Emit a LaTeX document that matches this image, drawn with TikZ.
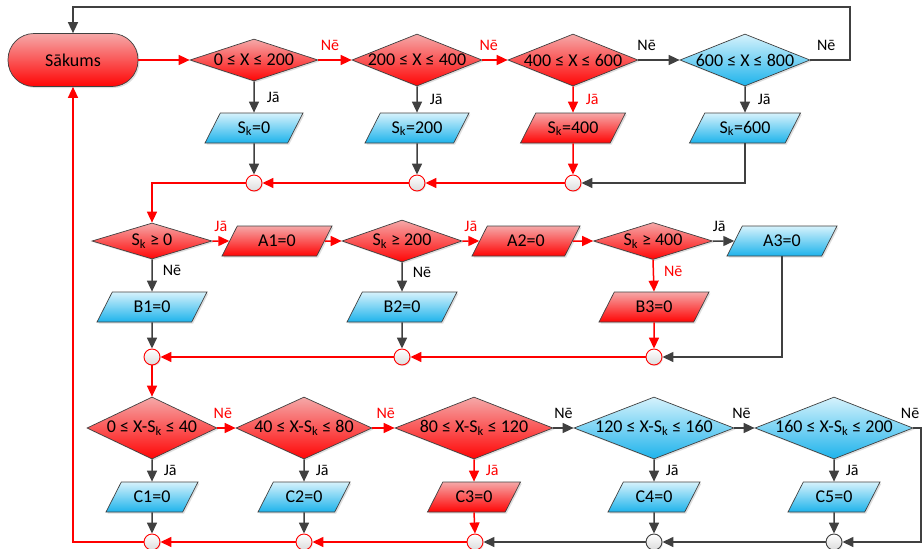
\documentclass[tikz,border=0pt]{standalone}
\usepackage{fontspec}
\setmainfont{Carlito}
\usepackage{xcolor}
\usetikzlibrary{shapes.geometric,arrows.meta,shadows}
\definecolor{redtop}{HTML}{F5A8A8}
\definecolor{redmid}{HTML}{FF4A4A}
\definecolor{redbot}{HTML}{FF0505}
\definecolor{bluetop}{HTML}{D6F2FC}
\definecolor{bluemid}{HTML}{7AD3F3}
\definecolor{bluebot}{HTML}{1DB3EB}
\definecolor{edgegray}{HTML}{404040}
\definecolor{flowred}{HTML}{FF0000}
\definecolor{flowgray}{HTML}{404040}
\definecolor{jointgray}{HTML}{DCDCDC}

\tikzset{
  shapebase/.style={draw=edgegray, line width=0.7pt, text=black,
    font=\fontsize{18}{20}\selectfont,
    drop shadow={shadow xshift=1.5pt, shadow yshift=-1.5pt, opacity=0.25}},
  redfill/.style={top color=redtop, middle color=redmid, bottom color=redbot},
  bluefill/.style={top color=bluetop, middle color=bluemid, bottom color=bluebot},
  startbox/.style={shapebase, rectangle, rounded corners=26pt,
    minimum width=130pt, minimum height=53pt, inner sep=0pt},
  decision/.style={shapebase, diamond, aspect=3, inner xsep=-4pt, inner ysep=-3pt},
  iobox/.style={shapebase, trapezium, trapezium left angle=63, trapezium right angle=117,
    trapezium stretches body=true, text height=13pt, text depth=3pt,
    inner xsep=0pt, inner ysep=7pt},
  junction/.style={circle, minimum size=16pt, inner sep=0pt, line width=0.9pt,
    top color=white, bottom color=jointgray,
    drop shadow={shadow xshift=1pt, shadow yshift=-1pt, opacity=0.2}},
  redjunction/.style={junction, draw=flowred},
  grayjunction/.style={junction, draw=edgegray},
  redflow/.style={draw=flowred, line width=1.5pt, -{Triangle[length=11pt,width=10pt]}},
  grayflow/.style={draw=flowgray, line width=1.5pt, -{Triangle[length=11pt,width=10pt]}},
  lbl/.style={font=\fontsize{16}{18}\selectfont, inner sep=1pt},
  redlbl/.style={lbl, text=flowred},
  graylbl/.style={lbl, text=black}
}
\newcommand{\Sk}{S\textsubscript{k}}

\begin{document}
\begin{tikzpicture}[x=1pt, y=-1pt]
\useasboundingbox (0,0) rectangle (922,549);

\node[startbox, redfill] (start) at (73,60) {Sākums};

\node[decision, redfill, minimum width=128pt, minimum height=42pt] (d1) at (254,60) {0 ≤ X ≤ 200};
\node[decision, redfill, minimum width=130pt, minimum height=52pt] (d2) at (417,60) {200 ≤ X ≤ 400};
\node[decision, redfill, minimum width=130pt, minimum height=52pt] (d3) at (573,60) {400 ≤ X ≤ 600};
\node[decision, bluefill, minimum width=130pt, minimum height=52pt] (d4) at (745,60) {600 ≤ X ≤ 800};

\node[iobox, bluefill, minimum width=98pt] (s0) at (254,128) {\Sk=0};
\node[iobox, bluefill, minimum width=104pt] (s200) at (417,128) {\Sk=200};
\node[iobox, redfill, minimum width=105pt] (s400) at (573,128) {\Sk=400};
\node[iobox, bluefill, minimum width=111pt] (s600) at (745,128) {\Sk=600};

\node[redjunction] (j1) at (254,183) {};
\node[redjunction] (j2) at (417,183) {};
\node[redjunction] (j3) at (573,183) {};

\node[decision, redfill, minimum width=120pt, minimum height=36pt] (m1) at (152,241) {\Sk{} ≥ 0};
\node[decision, redfill, minimum width=120pt, minimum height=42pt] (m2) at (402,241) {\Sk{} ≥ 200};
\node[decision, redfill, minimum width=119pt, minimum height=37pt] (m3) at (653,241) {\Sk{} ≥ 400};

\node[iobox, redfill, minimum width=110pt] (a1) at (277,241) {A1=0};
\node[iobox, redfill, minimum width=108pt] (a2) at (526,241) {A2=0};
\node[iobox, bluefill, minimum width=110pt] (a3) at (782,241) {A3=0};

\node[iobox, bluefill, minimum width=110pt] (b1) at (152,307) {B1=0};
\node[iobox, bluefill, minimum width=110pt] (b2) at (402,307) {B2=0};
\node[iobox, redfill, minimum width=110pt] (b3) at (654,307) {B3=0};

\node[redjunction] (k1) at (152,357) {};
\node[redjunction] (k2) at (402,357) {};
\node[redjunction] (k3) at (654,357) {};

\node[decision, redfill, minimum width=130pt, minimum height=62pt] (n1) at (152,428) {0 ≤ X-\Sk{} ≤ 40};
\node[decision, redfill, minimum width=136pt, minimum height=62pt] (n2) at (304,428) {40 ≤ X-\Sk{} ≤ 80};
\node[decision, redfill, minimum width=158pt, minimum height=62pt] (n3) at (474,428) {80 ≤ X-\Sk{} ≤ 120};
\node[decision, bluefill, minimum width=160pt, minimum height=62pt] (n4) at (654,428) {120 ≤ X-\Sk{} ≤ 160};
\node[decision, bluefill, minimum width=158pt, minimum height=62pt] (n5) at (834,428) {160 ≤ X-\Sk{} ≤ 200};

\node[iobox, bluefill, minimum width=92pt] (c1) at (152,497) {C1=0};
\node[iobox, bluefill, minimum width=92pt] (c2) at (304,497) {C2=0};
\node[iobox, redfill, minimum width=93pt] (c3) at (474,497) {C3=0};
\node[iobox, bluefill, minimum width=92pt] (c4) at (654,497) {C4=0};
\node[iobox, bluefill, minimum width=92pt] (c5) at (834,497) {C5=0};

\node[redjunction] (q1) at (152,542) {};
\node[redjunction] (q2) at (304,542) {};
\node[redjunction] (q3) at (475,542) {};
\node[grayjunction] (q4) at (654,542) {};
\node[grayjunction] (q5) at (834,542) {};

\coordinate (topright) at (850,7);
\coordinate (botright) at (921,542);

\draw[redflow] (start.east) -- (d1.west);
\draw[redflow] (d1.east) -- node[redlbl, pos=0.35, above=8pt] {Nē} (d2.west);
\draw[redflow] (d2.east) -- node[redlbl, pos=0.25, above=8pt] {Nē} (d3.west);
\draw[grayflow] (d3.east) -- node[graylbl, pos=0.2, above=8pt] {Nē} (d4.west);
\draw[grayflow] (d4.east) -| node[graylbl, pos=0.2, above=8pt] {Nē} (topright) -| (start.north);

\draw[grayflow] (d1.south) -- node[graylbl, right=11pt] {Jā} (s0.north);
\draw[grayflow] (d2.south) -- node[graylbl, right=11pt] {Jā} (s200.north);
\draw[redflow] (d3.south) -- node[redlbl, right=11pt] {Jā} (s400.north);
\draw[grayflow] (d4.south) -- node[graylbl, right=11pt] {Jā} (s600.north);

\draw[grayflow] (s0.south) -- (j1.north);
\draw[grayflow] (s200.south) -- (j2.north);
\draw[redflow] (s400.south) -- (j3.north);
\draw[grayflow] (s600.south) |- (j3.east);
\draw[redflow] (j3.west) -- (j2.east);
\draw[redflow] (j2.west) -- (j1.east);
\draw[redflow] (j1.west) -| (m1.north);

\draw[redflow] (m1.east) -- node[redlbl, above=8pt] {Jā} (a1.west);
\draw[redflow] (a1.east) -- (m2.west);
\draw[redflow] (m2.east) -- node[redlbl, above=8pt] {Jā} (a2.west);
\draw[redflow] (a2.east) -- (m3.west);
\draw[grayflow] (m3.east) -- node[graylbl, pos=0.3, above=8pt] {Jā} (a3.west);

\draw[grayflow] (m1.south) -- node[graylbl, pos=0.35, right=9pt] {Nē} (b1.north);
\draw[grayflow] (m2.south) -- node[graylbl, pos=0.35, right=9pt] {Nē} (b2.north);
\draw[redflow] (m3.south) -- node[redlbl, pos=0.35, right=9pt] {Nē} (b3.north);

\draw[grayflow] (b1.south) -- (k1.north);
\draw[grayflow] (b2.south) -- (k2.north);
\draw[redflow] (b3.south) -- (k3.north);
\draw[grayflow] (a3.south) |- (k3.east);
\draw[redflow] (k3.west) -- (k2.east);
\draw[redflow] (k2.west) -- (k1.east);
\draw[redflow] (k1.south) -- (n1.north);

\draw[redflow] (n1.east) -- node[redlbl, pos=0.3, above=8pt] {Nē} (n2.west);
\draw[redflow] (n2.east) -- node[redlbl, pos=0.6, above=8pt] {Nē} (n3.west);
\draw[grayflow] (n3.east) -- node[graylbl, above=8pt] {Nē} (n4.west);
\draw[grayflow] (n4.east) -- node[graylbl, pos=0.35, above=8pt] {Nē} (n5.west);
\draw[grayflow] (n5.east) -| node[graylbl, pos=0.5, anchor=south east, yshift=8pt] {Nē} (botright) -- (q5.east);

\draw[grayflow] (n1.south) -- node[graylbl, right=10pt] {Jā} (c1.north);
\draw[grayflow] (n2.south) -- node[graylbl, right=10pt] {Jā} (c2.north);
\draw[redflow] (n3.south) -- node[redlbl, right=10pt] {Jā} (c3.north);
\draw[grayflow] (n4.south) -- node[graylbl, right=10pt] {Jā} (c4.north);
\draw[grayflow] (n5.south) -- node[graylbl, right=10pt] {Jā} (c5.north);

\draw[grayflow] (c1.south) -- (q1.north);
\draw[grayflow] (c2.south) -- (q2.north);
\draw[redflow] (c3.south) -- (q3.north);
\draw[grayflow] (c4.south) -- (q4.north);
\draw[grayflow] (c5.south) -- (q5.north);
\draw[grayflow] (q5.west) -- (q4.east);
\draw[grayflow] (q4.west) -- (q3.east);
\draw[redflow] (q3.west) -- (q2.east);
\draw[redflow] (q2.west) -- (q1.east);
\draw[redflow] (q1.west) -| (start.south);
\end{tikzpicture}
\end{document}
